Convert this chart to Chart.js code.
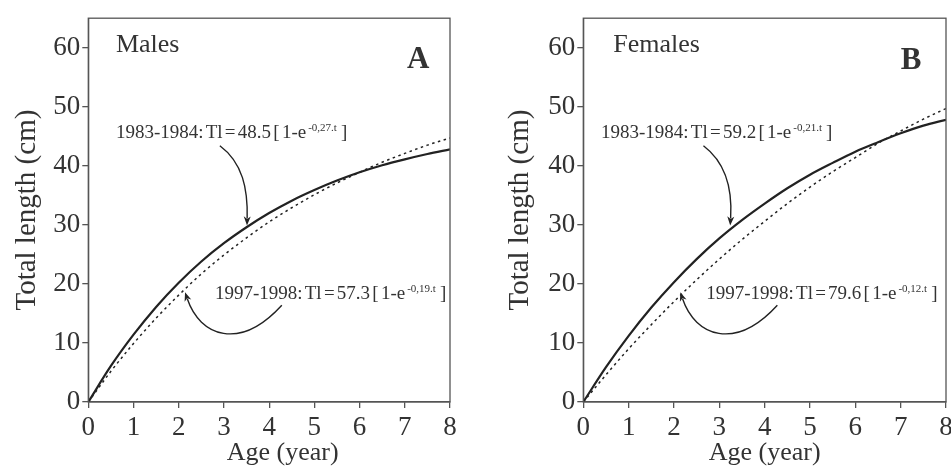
<!DOCTYPE html>
<html>
<head>
<meta charset="utf-8">
<script src="https://cdn.jsdelivr.net/npm/chart.js@4/dist/chart.umd.min.js"></script>
<style>
  html, body { margin: 0; padding: 0; background: #fff; overflow: hidden; width: 951px; height: 476px; }
  canvas { position: absolute; top: 0; }
  #cA { left: 0; }
  #cB { left: 475px; }
</style>
</head>
<body>
<canvas id="cA" width="475" height="476"></canvas>
<canvas id="cB" width="490" height="476"></canvas>
<script>
// ages (year) and total length (cm)
const ages = [0, 0.5, 1, 1.5, 2, 2.5, 3, 3.5, 4, 4.5, 5, 5.5, 6, 6.5, 7, 7.5, 8];
const males8384 = [0, 6.1, 11.4, 16.1, 20.2, 23.8, 26.9, 29.6, 32.0, 34.1, 35.9, 37.5, 38.9, 40.1, 41.1, 42.0, 42.8];
const males9798 = [0, 5.2, 9.9, 14.2, 18.1, 21.7, 24.9, 27.8, 30.5, 32.9, 35.1, 37.1, 38.9, 40.6, 42.1, 43.5, 44.7];
const females8384 = [0, 5.9, 11.2, 16.0, 20.3, 24.2, 27.7, 30.8, 33.6, 36.2, 38.5, 40.5, 42.4, 44.0, 45.5, 46.8, 47.8];
const females9798 = [0, 4.6, 9.0, 13.1, 17.0, 20.7, 24.2, 27.5, 30.6, 33.6, 36.4, 39.0, 41.4, 43.8, 45.9, 47.9, 49.7];
const yTicks = [0, 10, 20, 30, 40, 50, 60];
const xTicks = [0, 1, 2, 3, 4, 5, 6, 7, 8];

const SERIF = '"Liberation Serif", "Times New Roman", serif';
const INK = '#333';

function pts(ys) {
  return ages.map((a, i) => ({ x: a, y: ys[i] }));
}

// frame round the plot area + x title, labels, equations and arrows
const notesPlugin = {
  id: 'notes',
  afterDraw(chart, args, opts) {
    const ctx = chart.ctx;
    const a = chart.chartArea;
    const sx = chart.scales.x, sy = chart.scales.y;
    const px = v => sx.getPixelForValue(v);
    const py = v => sy.getPixelForValue(v);
    ctx.save();
    ctx.strokeStyle = '#555';
    ctx.lineWidth = 1.3;
    ctx.strokeRect(a.left, a.top, a.right - a.left, a.bottom - a.top);

    ctx.fillStyle = INK;
    ctx.textBaseline = 'alphabetic';
    ctx.textAlign = 'center';
    ctx.font = '26px ' + SERIF;
    ctx.fillText('Age (year)', (a.left + a.right) / 2 + opts.xTitleShift, chart.height - 16);

    ctx.textAlign = 'left';
    ctx.fillText(opts.sex.text, px(opts.sex.x), py(opts.sex.y));
    ctx.font = 'bold 31px ' + SERIF;
    ctx.fillText(opts.letter.text, px(opts.letter.x), py(opts.letter.y));

    opts.eqs.forEach(q => {
      let x = px(q.x);
      const y = py(q.y);
      ctx.font = '19px ' + SERIF;
      if ('wordSpacing' in ctx) ctx.wordSpacing = '-2.5px';
      ctx.fillText(q.pre, x, y);
      x += ctx.measureText(q.pre).width + 2;
      ctx.font = '11px ' + SERIF;
      ctx.fillText(q.sup, x, y - 7);
      x += ctx.measureText(q.sup).width + 4;
      ctx.font = '19px ' + SERIF;
      ctx.fillText(q.post, x, y);
    });

    ctx.strokeStyle = '#222';
    ctx.fillStyle = '#222';
    ctx.lineWidth = 1.4;
    opts.arrows.forEach(ar => {
      const p = ar.map(d => [px(d[0]), py(d[1])]);
      const dx = p[3][0] - p[2][0], dy = p[3][1] - p[2][1];
      const len = Math.hypot(dx, dy);
      const ux = dx / len, uy = dy / len;
      const hl = 9, hw = 3.5;
      const bx = p[3][0] - ux * hl, by = p[3][1] - uy * hl;
      ctx.beginPath();
      ctx.moveTo(p[0][0], p[0][1]);
      ctx.bezierCurveTo(p[1][0], p[1][1], p[2][0], p[2][1], bx + ux * 2, by + uy * 2);
      ctx.stroke();
      ctx.beginPath();
      ctx.moveTo(p[3][0], p[3][1]);
      ctx.lineTo(bx - uy * hw, by + ux * hw);
      ctx.lineTo(bx + ux * 2.5, by + uy * 2.5);
      ctx.lineTo(bx + uy * hw, by - ux * hw);
      ctx.closePath();
      ctx.fill();
    });
    ctx.restore();
  }
};

function makeChart(id, solid, dotted, yAxisWidth, yTitlePad, padRight, notes) {
  return new Chart(document.getElementById(id), {
    type: 'line',
    data: {
      datasets: [
        { label: '1983-1984', data: pts(solid), borderColor: '#222', borderWidth: 2.2,
          pointRadius: 0, cubicInterpolationMode: 'monotone', fill: false },
        { label: '1997-1998', data: pts(dotted), borderColor: '#222', borderWidth: 1.5,
          borderDash: [2.5, 3.5], pointRadius: 0, cubicInterpolationMode: 'monotone', fill: false }
      ]
    },
    options: {
      responsive: false,
      animation: false,
      devicePixelRatio: 1,
      layout: { padding: { top: 12, right: padRight, left: 0, bottom: 0 } },
      plugins: { legend: { display: false }, tooltip: { enabled: false }, notes: notes },
      scales: {
        x: {
          type: 'linear', min: 0, max: 8,
          afterBuildTicks: s => { s.ticks = xTicks.map(v => ({ value: v })); },
          afterFit: s => { s.height = 74; },
          ticks: { color: INK, font: { family: SERIF, size: 27 }, padding: 4, maxRotation: 0 },
          grid: { drawOnChartArea: false, tickLength: 6, color: '#555', lineWidth: 1.3 },
          border: { color: '#555', width: 1.3 }
        },
        y: {
          min: 0, max: 65,
          afterBuildTicks: s => { s.ticks = yTicks.map(v => ({ value: v })); },
          afterFit: s => { s.width = yAxisWidth; },
          ticks: { color: INK, font: { family: SERIF, size: 27 }, padding: 2 },
          grid: { drawOnChartArea: false, tickLength: 6, color: '#555', lineWidth: 1.3 },
          border: { color: '#555', width: 1.3 },
          title: { display: true, text: 'Total length (cm)', color: INK,
                   font: { family: SERIF, size: 29 }, padding: { top: yTitlePad, bottom: 0 } }
        }
      }
    },
    plugins: [notesPlugin]
  });
}

makeChart('cA', males8384, males9798, 88.3, 10, 25, {
  xTitleShift: 13.5,
  sex: { text: 'Males', x: 0.61, y: 59.35 },
  letter: { text: 'A', x: 7.05, y: 56.5 },
  eqs: [
    { pre: '1983-1984: Tl = 48.5 [ 1-e', sup: '-0,27.t', post: ']', x: 0.61, y: 44.7 },
    { pre: '1997-1998: Tl = 57.3 [ 1-e', sup: '-0,19.t', post: ']', x: 2.80, y: 17.47 }
  ],
  arrows: [
    [[2.91, 43.4], [3.42, 40.5], [3.53, 36.0], [3.51, 29.9]],
    [[4.28, 16.4], [3.35, 8.6], [2.47, 11.1], [2.14, 18.6]]
  ]
});

makeChart('cB', females8384, females9798, 108.3, 28, 19, {
  xTitleShift: 0,
  sex: { text: 'Females', x: 0.66, y: 59.35 },
  letter: { text: 'B', x: 7.0, y: 56.4 },
  eqs: [
    { pre: '1983-1984: Tl = 59.2 [ 1-e', sup: '-0,21.t', post: ']', x: 0.39, y: 44.7 },
    { pre: '1997-1998: Tl = 79.6 [ 1-e', sup: '-0,12.t', post: ']', x: 2.71, y: 17.47 }
  ],
  arrows: [
    [[2.65, 43.4], [3.15, 40.5], [3.29, 36.0], [3.24, 29.9]],
    [[4.28, 16.4], [3.35, 8.6], [2.47, 11.1], [2.14, 18.6]]
  ]
});
</script>
</body>
</html>
